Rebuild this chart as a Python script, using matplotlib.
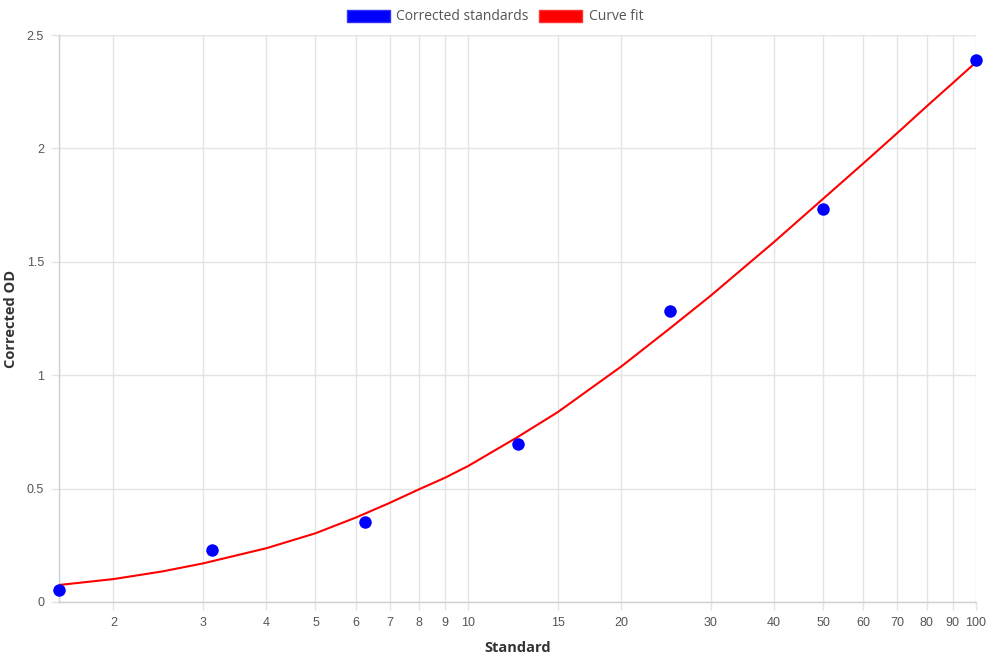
import numpy as np
import matplotlib
matplotlib.use("Agg")
import matplotlib.pyplot as plt
from matplotlib.patches import Patch
from matplotlib.ticker import FixedLocator, FixedFormatter, NullLocator

# measured standards
std_x = [1.5625, 3.125, 6.25, 12.5, 25, 50, 100]
std_od = [0.053, 0.229, 0.354, 0.697, 1.283, 1.731, 2.39]

# curve fit
fit_x = [1.5625, 2, 2.5, 3, 4, 5, 6, 7, 8, 9, 10, 12.5, 15, 20, 25, 30,
         40, 50, 60, 70, 80, 90, 100]
fit_od = [0.075, 0.101, 0.135, 0.17, 0.237, 0.303, 0.372, 0.437, 0.497, 0.548,
          0.600, 0.727, 0.837, 1.038, 1.208, 1.35, 1.587, 1.778, 1.934, 2.068,
          2.186, 2.288, 2.38]

x_ticks = [2, 3, 4, 5, 6, 7, 8, 9, 10, 15, 20, 30, 40, 50, 60, 70, 80, 90, 100]
y_ticks = [0, 0.5, 1, 1.5, 2, 2.5]
y_labels = ["0", "0.5", "1", "1.5", "2", "2.5"]

grid_col = "#e4e4e4"
tick_col = "#555555"

fig = plt.figure(figsize=(9.9, 6.6), dpi=100)
ax = fig.add_axes([59 / 990, 1 - 602 / 660, (976 - 59) / 990, (602 - 35) / 660])

ax.plot(fit_x, fit_od, color="red", lw=1.5, zorder=3, solid_capstyle="round",
        solid_joinstyle="round")
ax.plot(std_x, std_od, "o", color="blue", markersize=9, markeredgewidth=0,
        zorder=4, clip_on=False)

ax.set_xscale("log")
ax.set_xlim(1.5625, 100)
ax.set_ylim(0, 2.5)

ax.xaxis.set_major_locator(FixedLocator(x_ticks))
ax.xaxis.set_major_formatter(FixedFormatter([str(t) for t in x_ticks]))
ax.xaxis.set_minor_locator(NullLocator())
ax.yaxis.set_major_locator(FixedLocator(y_ticks))
ax.yaxis.set_major_formatter(FixedFormatter(y_labels))

ax.grid(True, color=grid_col, lw=1, zorder=0)
ax.axvline(1.5625, color=grid_col, lw=1, zorder=0)
ax.axhline(2.5, color=grid_col, lw=1, zorder=0)
for s in ["top", "right"]:
    ax.spines[s].set_visible(False)
for s in ["left", "bottom"]:
    ax.spines[s].set_color("#d0d0d0")
    ax.spines[s].set_linewidth(1)

ax.tick_params(axis="both", length=5.8, width=1, color=grid_col, labelcolor=tick_col,
               labelsize=9, pad=5)
for lab in ax.get_xticklabels() + ax.get_yticklabels():
    lab.set_family("Liberation Sans")

ax.set_xlabel("Standard", fontsize=10.5, fontweight="bold", color="#333333",
              family="Open Sans", labelpad=9)
ax.set_ylabel("Corrected OD", fontsize=10.5, fontweight="bold", color="#333333",
              family="Open Sans", labelpad=6)

handles = [Patch(facecolor="blue", edgecolor="#3030ff", lw=1),
           Patch(facecolor="red", edgecolor="#ff3030", lw=1)]
fig.legend(handles, ["Corrected standards", "Curve fit"], loc="center",
           bbox_to_anchor=(0.5, 1 - 17 / 660), ncol=2, frameon=False,
           prop={"family": "Open Sans", "size": 10}, labelcolor="#555555",
           handlelength=3.1, handleheight=0.95, handletextpad=0.45, columnspacing=0.8)

fig.savefig("out.png", dpi=100)
